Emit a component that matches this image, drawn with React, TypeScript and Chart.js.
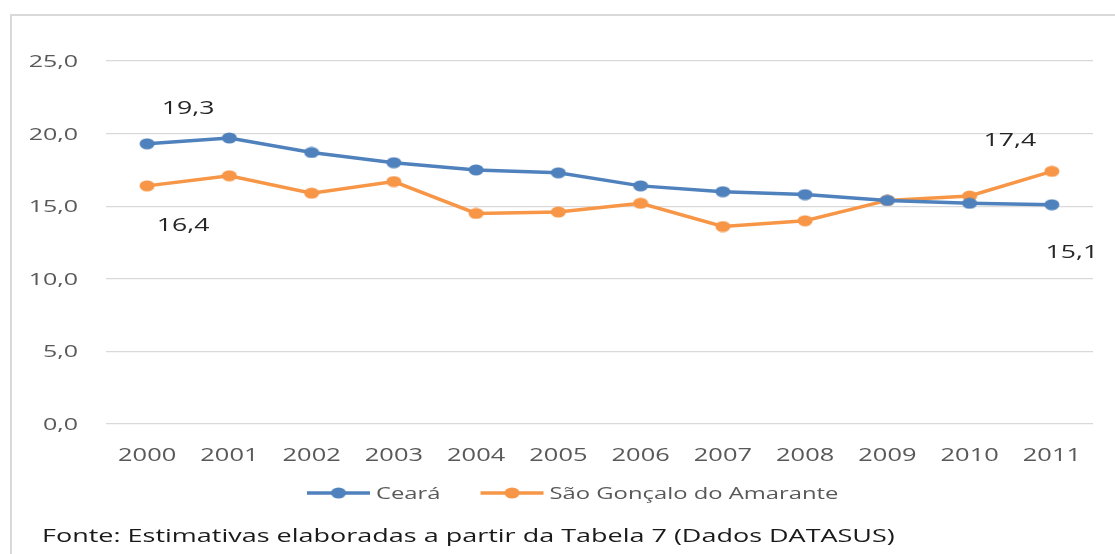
import { useEffect, useRef } from 'react';
import { Chart, registerables } from 'chart.js';

Chart.register(...registerables);

// ---- data ----
const years = ['2000', '2001', '2002', '2003', '2004', '2005', '2006', '2007', '2008', '2009', '2010', '2011'];
const cearaValues = [19.3, 19.7, 18.7, 18.0, 17.5, 17.3, 16.4, 16.0, 15.8, 15.4, 15.2, 15.1];
const saoGoncaloValues = [16.4, 17.1, 15.9, 16.7, 14.5, 14.6, 15.2, 13.6, 14.0, 15.4, 15.7, 17.4];
const seriesNames = ['Ceará', 'São Gonçalo do Amarante'];
const yMin = 0;
const yMax = 25;
const yStep = 5;
// [datasetIndex, pointIndex] of the points that carry a data label
const labeledPoints = [[0, 0], [1, 0], [1, 11], [0, 11]];
const sourceNote = 'Fonte: Estimativas elaboradas a partir da Tabela 7 (Dados DATASUS)';

// ---- style ----
const COLORS = ['#4f81bd', '#f79646'];
const FONT = '"Open Sans", "DejaVu Sans", sans-serif';
const LABEL_OFFSETS = [[41, -37], [36, 38], [-42, -32], [20, 46]];

const fmt = (v: number) => v.toFixed(1).replace('.', ',');

function makeEllipse(color: string, w: number, h: number) {
  const c = document.createElement('canvas');
  c.width = w;
  c.height = h;
  const ctx = c.getContext('2d')!;
  ctx.fillStyle = color;
  ctx.beginPath();
  ctx.ellipse(w / 2, h / 2, w / 2 - 0.5, h / 2 - 0.5, 0, 0, Math.PI * 2);
  ctx.fill();
  return c;
}

function drawText(
  ctx: CanvasRenderingContext2D,
  text: string,
  x: number,
  yCenter: number,
  size: number,
  color: string,
  align: 'left' | 'center' | 'right',
  sx: number
) {
  ctx.save();
  ctx.font = `${size}px ${FONT}`;
  ctx.fillStyle = color;
  ctx.textAlign = 'left';
  ctx.textBaseline = 'alphabetic';
  const w = ctx.measureText(text).width * sx;
  const left = align === 'center' ? x - w / 2 : align === 'right' ? x - w : x;
  ctx.translate(left, yCenter + size * 0.714 / 2);
  ctx.scale(sx, 1);
  ctx.fillText(text, 0, 0);
  ctx.restore();
  return left + w;
}

export default function App() {
  const ref = useRef<HTMLCanvasElement | null>(null);

  useEffect(() => {
    document.body.style.margin = '0';
    const canvas = ref.current!;
    const markers = COLORS.map((c) => makeEllipse(c, 16, 12));

    const overlay = {
      id: 'overlay',
      beforeDraw(chart: any) {
        const ctx = chart.ctx as CanvasRenderingContext2D;
        ctx.save();
        ctx.strokeStyle = '#d9d9d9';
        ctx.lineWidth = 2;
        ctx.beginPath();
        ctx.moveTo(11, chart.height);
        ctx.lineTo(11, 15);
        ctx.lineTo(chart.width, 15);
        ctx.stroke();
        ctx.restore();
      },
      afterDraw(chart: any) {
        const ctx = chart.ctx as CanvasRenderingContext2D;
        const xs = chart.scales.x;
        const ys = chart.scales.y;
        // y tick labels
        ys.ticks.forEach((t: any) => {
          drawText(ctx, fmt(t.value), 78, ys.getPixelForValue(t.value), 17, '#595959', 'right', 1.47);
        });
        // x tick labels
        years.forEach((yr, i) => {
          drawText(ctx, yr, xs.getPixelForValue(i), 455, 17.5, '#595959', 'center', 1.45);
        });
        // data labels
        labeledPoints.forEach(([di, pi], k) => {
          const v = chart.data.datasets[di].data[pi] as number;
          const px = xs.getPixelForValue(pi) + LABEL_OFFSETS[k][0];
          const py = ys.getPixelForValue(v) + LABEL_OFFSETS[k][1];
          drawText(ctx, fmt(v), px, py, 19, '#262626', 'center', 1.4);
        });
        // legend
        let lx = 307;
        const ly = 493;
        seriesNames.forEach((name, i) => {
          ctx.save();
          ctx.strokeStyle = COLORS[i];
          ctx.lineWidth = 3.5;
          ctx.beginPath();
          ctx.moveTo(lx, ly);
          ctx.lineTo(lx + 63, ly);
          ctx.stroke();
          ctx.drawImage(markers[i], lx + 31.5 - 8, ly - 6);
          ctx.restore();
          const end = drawText(ctx, name, lx + 69, ly, 17, '#595959', 'left', 1.4);
          lx = end + 40;
        });
        // source note
        drawText(ctx, sourceNote, 42, 535, 19, '#1a1a1a', 'left', 1.42);
      },
    };

    const chart = new Chart(canvas, {
      type: 'line',
      data: {
        labels: years,
        datasets: [
          {
            label: seriesNames[0],
            data: cearaValues,
            borderColor: COLORS[0],
            backgroundColor: COLORS[0],
            borderWidth: 3.5,
            pointStyle: markers[0] as any,
            pointRadius: 6,
            tension: 0,
          },
          {
            label: seriesNames[1],
            data: saoGoncaloValues,
            borderColor: COLORS[1],
            backgroundColor: COLORS[1],
            borderWidth: 3.5,
            pointStyle: markers[1] as any,
            pointRadius: 6,
            tension: 0,
          },
        ],
      },
      options: {
        responsive: false,
        animation: false,
        devicePixelRatio: 1,
        layout: { padding: { left: 106, right: 22, top: 61, bottom: 130 } },
        plugins: { legend: { display: false }, tooltip: { enabled: false } },
        scales: {
          x: {
            display: false,
            offset: true,
          },
          y: {
            min: yMin,
            max: yMax,
            ticks: { display: false, stepSize: yStep },
            grid: { color: '#d9d9d9', lineWidth: 1.3, drawTicks: false, tickLength: 0 },
            border: { display: false },
          },
        },
      },
      plugins: [overlay],
    });
    return () => chart.destroy();
  }, []);

  return (
    <div style={{ position: 'absolute', left: 0, top: 0, width: 1115, height: 554 }}>
      <canvas ref={ref} width={1115} height={554} />
    </div>
  );
}
